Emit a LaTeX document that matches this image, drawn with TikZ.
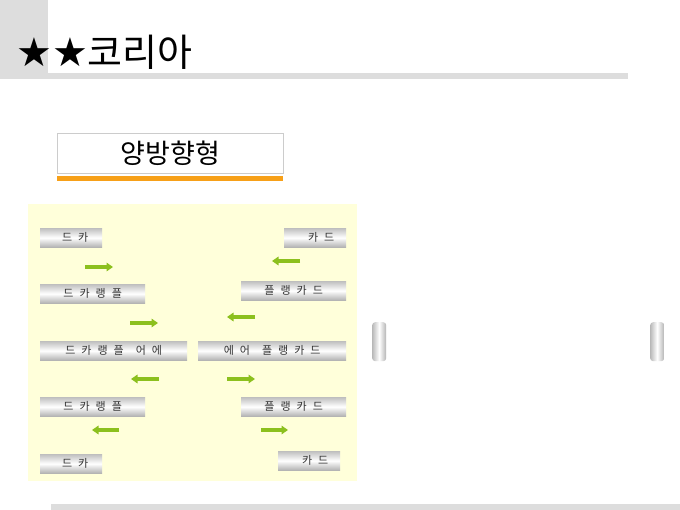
\documentclass[tikz,border=0pt]{standalone}
\usepackage{fontspec}
\usepackage{tikz}
\usetikzlibrary{arrows.meta}
\newfontfamily\krfont{Noto Sans CJK KR}
\newfontfamily\symfont{DejaVu Sans}
\newcommand{\wsp}{\hspace{6pt}}
\definecolor{barGray}{RGB}{221,221,221}
\definecolor{panelYellow}{RGB}{255,255,218}
\definecolor{lineOrange}{RGB}{247,160,24}
\definecolor{flowGreen}{RGB}{140,192,30}
\definecolor{textGray}{RGB}{50,50,50}

\begin{document}
\begin{tikzpicture}[x=1pt, y=-1pt]
\tikzstyle{metalbar} = [anchor = north west, minimum height = 19pt, inner sep = 0pt, top color = gray!50, bottom color = gray!60, middle color = white, text = textGray, font = \krfont\fontsize{11}{13}\selectfont]
\tikzstyle{sidepill} = [anchor = north west, minimum width = 14pt, minimum height = 39pt, inner sep = 0pt, rounded corners = 3pt, left color = gray!55, right color = gray!60, middle color = white]
\tikzset{flowarrow/.style={line width = 3.2pt, flowGreen, -{Triangle[length=6.5pt, width=8.5pt]}}}
\useasboundingbox (0,0) rectangle (680,510);
\fill [white] (0,0) rectangle (680,510);
% header
\fill [barGray] (0,0) rectangle (48,79);
\fill [barGray] (0,73) rectangle (628,79);
\node [anchor = base west, inner sep = 0pt] (title) at (16,67) {{\symfont\fontsize{40}{44}\selectfont ★★}{\krfont\fontsize{38}{42}\selectfont 코리아}};
% subtitle box
\node [anchor = north west, draw = gray!40, fill = white, minimum width = 226pt, minimum height = 40pt, inner sep = 0pt, font = \krfont\fontsize{27}{30}\selectfont] (kind) at (57,133) {양방향형};
\fill [lineOrange] (57,176) rectangle (283,181);
% panel
\fill [panelYellow] (28,204) rectangle (357,481);
\node [metalbar, minimum width = 62pt] (l1) at (40,228) {\hspace{8pt}드\wsp 카};
\node [metalbar, minimum width = 105pt] (l2) at (40,284) {드\wsp 카\wsp 랭\wsp 플};
\node [metalbar, minimum width = 147pt] (l3) at (40,341) {드\wsp 카\wsp 랭\wsp 플\wsp\wsp 어\wsp 에};
\node [metalbar, minimum width = 105pt] (l4) at (40,397) {드\wsp 카\wsp 랭\wsp 플};
\node [metalbar, minimum width = 62pt] (l5) at (40,454) {\hspace{8pt}드\wsp 카};
\node [metalbar, minimum width = 62pt] (r1) at (284,228) {\hspace{12pt}카\wsp 드};
\node [metalbar, minimum width = 105pt] (r2) at (241,281) {플\wsp 랭\wsp 카\wsp 드};
\node [metalbar, minimum width = 148pt] (r3) at (198,341) {에\wsp 어\wsp\wsp 플\wsp 랭\wsp 카\wsp 드};
\node [metalbar, minimum width = 105pt] (r4) at (241,397) {플\wsp 랭\wsp 카\wsp 드};
\node [metalbar, minimum width = 62pt] (r5) at (278,451) {\hspace{12pt}카\wsp 드};
% arrows
\foreach \n/\xa/\xb/\y in {a/85/113/267, b/130/158/323, c/159/131/379, d/119/92/430, e/300/272/261, f/255/227/317, g/227/255/379, h/261/288/430} {
  \coordinate (s\n) at (\xa,\y);
  \coordinate (e\n) at (\xb,\y);
  \draw [flowarrow] (s\n) -- (e\n);
}
% side pills
\node [sidepill] (pillL) at (372,322) {};
\node [sidepill] (pillR) at (650,322) {};
% footer
\fill [barGray] (51,504) rectangle (680,510);
\end{tikzpicture}
\end{document}
